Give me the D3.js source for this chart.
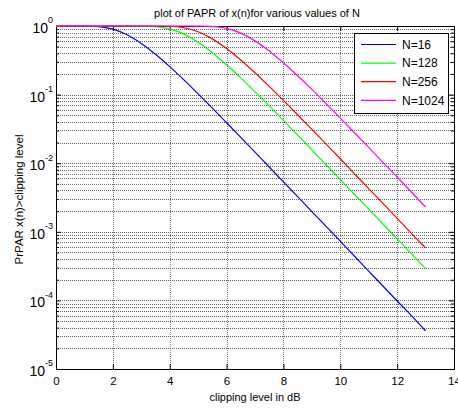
<!DOCTYPE html>
<html>
<head>
<meta charset="utf-8">
<script src="https://cdn.jsdelivr.net/npm/d3@7"></script>
<style>
  html, body { margin: 0; padding: 0; background: #fff; }
  svg { display: block; font-family: "Liberation Sans", Arial, sans-serif; }
</style>
</head>
<body>
<div id="chart"></div>
<script>
// clipping level (dB) samples and CCDF values
const clipDb = [0, 0.5, 1, 1.5, 2, 2.5, 3, 3.5, 4, 4.5, 5, 5.5, 6, 6.5, 7,
    7.5, 8, 8.5, 9, 9.5, 10, 10.5, 11, 11.5, 12, 12.5, 13];

const n16 = [1, 1, 0.9994, 0.982, 0.902, 0.746, 0.558, 0.388, 0.256, 0.164,
    0.1025, 0.0634, 0.0389, 0.0238, 0.0145, 0.0088, 0.00535, 0.00325, 0.00197,
    0.0012, 7.3e-4, 4.4e-4, 2.67e-4, 1.62e-4, 9.8e-5, 6.0e-5, 3.6e-5];
const n128 = [1, 1, 1, 1, 1, 1, 0.9986, 0.98, 0.906, 0.761, 0.579, 0.408,
    0.272, 0.175, 0.11, 0.0684, 0.042, 0.0257, 0.0157, 0.0095, 0.0058, 0.0035,
    0.00214, 0.0013, 7.9e-4, 4.8e-4, 2.9e-4];
const n256 = [1, 1, 1, 1, 1, 1, 1, 0.9996, 0.991, 0.943, 0.823, 0.649, 0.47,
    0.32, 0.208, 0.132, 0.0823, 0.0508, 0.0311, 0.019, 0.0116, 0.007, 0.00427,
    0.00259, 0.00157, 9.5e-4, 5.8e-4];
const n1024 = [1, 1, 1, 1, 1, 1, 1, 1, 1, 1, 0.999, 0.985, 0.921, 0.786,
    0.607, 0.433, 0.291, 0.188, 0.119, 0.0738, 0.0454, 0.0278, 0.017, 0.0103,
    0.0063, 0.0038, 0.0023];

const seriesNames = ['N=16', 'N=128', 'N=256', 'N=1024'];
const seriesColors = ['#0000ff', '#00ff00', '#ff0000', '#ff00ff'];
const seriesValues = [n16, n128, n256, n1024];

const xTicks = [0, 2, 4, 6, 8, 10, 12, 14];
const yMajor = [1e-5, 1e-4, 1e-3, 1e-2, 1e-1, 1];
const yExp = ['-5', '-4', '-3', '-2', '-1', '0'];

const W = 458, H = 408;
const margin = {top: 26, right: 4, bottom: 39, left: 56};
const iw = W - margin.left - margin.right;
const ih = H - margin.top - margin.bottom;

const svg = d3.select('#chart').append('svg')
    .attr('width', W)
    .attr('height', H);

const g = svg.append('g')
    .attr('transform', `translate(${margin.left},${margin.top})`);

const x = d3.scaleLinear().domain([0, 14]).range([0, iw]);
const y = d3.scaleLog().domain([1e-5, 1]).range([ih, 0]);

const yAll = y.ticks();
const yMinor = yAll.filter(v => !yMajor.some(m => Math.abs(m - v) / m < 1e-6));

// grid
g.append('g').selectAll('line')
    .data(yAll)
    .enter()
    .append('line')
    .attr('x1', 0).attr('x2', iw)
    .attr('y1', d => Math.round(y(d)) + 0.5)
    .attr('y2', d => Math.round(y(d)) + 0.5)
    .attr('stroke', '#333')
    .attr('stroke-opacity', 0.75)
    .attr('stroke-dasharray', '1,1');

g.append('g').selectAll('line')
    .data(xTicks.slice(1, -1))
    .enter()
    .append('line')
    .attr('y1', 0).attr('y2', ih)
    .attr('x1', d => Math.round(x(d)) + 0.5)
    .attr('x2', d => Math.round(x(d)) + 0.5)
    .attr('stroke', '#555')
    .attr('stroke-opacity', 0.75)
    .attr('stroke-dasharray', '1,1');

// box
g.append('rect')
    .attr('x', 0.5).attr('y', 0.5)
    .attr('width', iw).attr('height', ih)
    .attr('fill', 'none')
    .attr('stroke', '#000');

// x axis
const xAxis = g.append('g')
    .attr('transform', `translate(0,${ih})`)
    .call(d3.axisBottom(x).tickValues(xTicks).tickSize(-5).tickPadding(8).tickFormat(d3.format('d')));
xAxis.select('.domain').remove();
xAxis.selectAll('text').attr('font-size', 11.5).attr('fill', '#000').attr('font-family', null);

g.append('g')
    .call(d3.axisTop(x).tickValues(xTicks).tickSize(-5).tickFormat(''))
    .select('.domain').remove();

// y ticks, left and right
const yLeft = g.append('g')
    .call(d3.axisLeft(y).tickValues(yMajor).tickSize(-5).tickFormat(''));
yLeft.select('.domain').remove();
g.append('g')
    .call(d3.axisLeft(y).tickValues(yMinor).tickSize(-3).tickFormat(''))
    .select('.domain').remove();
g.append('g')
    .attr('transform', `translate(${iw},0)`)
    .call(d3.axisRight(y).tickValues(yMajor).tickSize(-5).tickFormat(''))
    .select('.domain').remove();
g.append('g')
    .attr('transform', `translate(${iw},0)`)
    .call(d3.axisRight(y).tickValues(yMinor).tickSize(-3).tickFormat(''))
    .select('.domain').remove();

const yLab = g.append('g').selectAll('text')
    .data(yMajor)
    .enter()
    .append('text')
    .attr('x', -3)
    .attr('y', d => y(d) + 7)
    .attr('text-anchor', 'end')
    .attr('fill', '#000');
yLab.append('tspan').attr('font-size', 14).text('10');
yLab.append('tspan')
    .attr('font-size', 9)
    .attr('dy', -9.6)
    .text((d, i) => yExp[i]);

// curves
const line = d3.line()
    .x((d, i) => x(clipDb[i]))
    .y(d => y(d))
    .curve(d3.curveMonotoneX);

g.append('g').selectAll('path')
    .data(seriesValues)
    .enter()
    .append('path')
    .attr('d', line)
    .attr('fill', 'none')
    .attr('stroke', (d, i) => seriesColors[i])
    .attr('stroke-width', 1.2);

// legend
const legend = svg.append('g').attr('transform', 'translate(354,33)');
legend.append('rect')
    .attr('x', 0.5).attr('y', 0.5)
    .attr('width', 94).attr('height', 80)
    .attr('fill', '#fff')
    .attr('stroke', '#000');
const item = legend.selectAll('.item')
    .data(seriesNames)
    .enter()
    .append('g')
    .attr('transform', (d, i) => `translate(0,${11.5 + i * 18.6})`);
item.append('line')
    .attr('x1', 7).attr('x2', 42)
    .attr('stroke', (d, i) => seriesColors[i])
    .attr('stroke-width', 1.2);
item.append('text')
    .attr('x', 48)
    .attr('dy', '0.36em')
    .attr('font-size', 12)
    .text(d => d);

// titles
svg.append('text')
    .attr('x', margin.left + iw / 2 + 2)
    .attr('y', 17)
    .attr('text-anchor', 'middle')
    .attr('font-size', 11)
    .text('plot of PAPR of x(n)for various values of N');

svg.append('text')
    .attr('x', margin.left + iw / 2)
    .attr('y', 401)
    .attr('text-anchor', 'middle')
    .attr('font-size', 11)
    .text('clipping level in dB');

svg.append('text')
    .attr('transform', `translate(23,${margin.top + ih / 2 + 2}) rotate(-90)`)
    .attr('text-anchor', 'middle')
    .attr('font-size', 11.5)
    .text('PrPAR x(n)>clipping level');
</script>
</body>
</html>
